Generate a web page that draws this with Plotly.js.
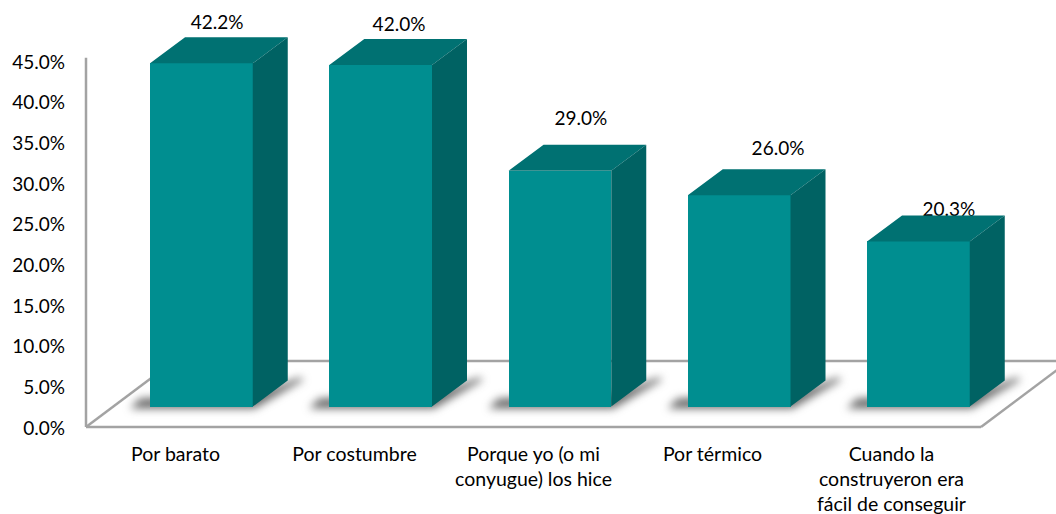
<!DOCTYPE html>
<html><head><meta charset="utf-8">
<script src="https://cdn.plot.ly/plotly-3.0.1.min.js"></script>
<style>html,body{margin:0;padding:0;background:#fff}#c{width:1056px;height:514px}</style>
</head><body><div id="c"></div>
<script>
const categories = ["Por barato","Por costumbre","Porque yo (o mi<br>conyugue) los hice","Por térmico","Cuando la<br>construyeron era<br>fácil de conseguir"];
const values = [42.2,42.0,29.0,26.0,20.3];
const yTicks = [0,5,10,15,20,25,30,35,40,45];

// geometry of the oblique projection (axis units)
const unitX = 179, unitY = 366/45;
const pxX = p=>p/unitX, pxY = p=>p/unitY;
const barStep = 179.25/179, barShift = pxX(25.9), barWidth = pxX(102.7), barLift = pxY(20.4);
const depthX = pxX(35), depthY = pxY(26);
const floorDepthX = pxX(88), floorDepthY = pxY(66);
const labelShift = [0.232,0.2486,0.265,0.366,0.321];
const labelLift = [7.35,7.31,8.74,8.05,6.25];

const idx = values.map((_,i)=>i);
const barX = i=>i*barStep+barShift;
const faceX=[],faceYTop=[],sideX=[],sideY=[];
idx.forEach(i=>{
  const l=barX(i)-barWidth/2, r=barX(i)+barWidth/2, b=barLift, t=barLift+values[i];
  faceX.push(l,r,r+depthX,l+depthX,l,null);
  faceYTop.push(t,t,t+depthY,t+depthY,t,null);
  sideX.push(r,r+depthX,r+depthX,r,r,null);
  sideY.push(b,b+depthY,t+depthY,t,b,null);
});

const gray='#a3a3a3';
const shapes=[];
const line=(x0,y0,x1,y1)=>shapes.push({type:'line',layer:'below',xref:'x',yref:'y',x0,y0,x1,y1,line:{color:gray,width:2.5}});
line(-0.5,0,-0.5,45.4);
line(-0.5,0,4.5,0);
line(-0.5,0,-0.5+floorDepthX,floorDepthY);
line(4.5,0,4.5+floorDepthX,floorDepthY);
line(-0.5+floorDepthX,floorDepthY,4.5+floorDepthX,floorDepthY);
// soft floor shadows, blurred after drawing
idx.forEach(i=>{
  const l=barX(i)-barWidth/2, r=barX(i)+barWidth/2, b=barLift;
  const p=[
    [l+pxX(-10), b+pxY(8)],
    [l+pxX(-20), b+pxY(-2)],
    [r+pxX(2),   b+pxY(-2)],
    [r+depthX+pxX(16), b+depthY+pxY(1)],
    [r+depthX+pxX(12), b+depthY+pxY(3)],
    [r,          b+pxY(12)]
  ];
  shapes.push({type:'path',layer:'below',xref:'x',yref:'y',
    path:'M'+p.map(q=>q.join(',')).join('L')+'Z',
    fillcolor:'rgba(70,70,70,0.8)',line:{width:0}});
});

const data=[
 {type:'bar',x:idx.map(barX),y:values,base:idx.map(()=>barLift),width:barWidth,
  marker:{color:'#008e90',line:{width:0}},hoverinfo:'skip'},
 {type:'scatter',mode:'text',x:idx.map(i=>i+labelShift[i]),y:idx.map(i=>values[i]+labelLift[i]),
  text:values.map(v=>v.toFixed(1)+'%'),textposition:'middle center',
  textfont:{family:'Lato',size:19,color:'#000'},hoverinfo:'skip',cliponaxis:false},
 {type:'scatter',mode:'lines',x:faceX,y:faceYTop,fill:'toself',fillcolor:'#007172',line:{width:0},hoverinfo:'skip'},
 {type:'scatter',mode:'lines',x:sideX,y:sideY,fill:'toself',fillcolor:'#006263',line:{width:0},hoverinfo:'skip'}
];
const L=68,B=79,plotBottomPx=435;
const layout={
 width:1056,height:514,showlegend:false,paper_bgcolor:'#fff',plot_bgcolor:'rgba(0,0,0,0)',
 margin:{l:L,r:0,t:0,b:B,pad:0},bargap:0,shapes,
 font:{family:'Lato',size:19,color:'#000'},
 xaxis:{range:[(L-175.5)/unitX,(1056-175.5)/unitX],tickmode:'array',tickvals:idx,ticktext:categories,
   showgrid:false,zeroline:false,showline:false,ticks:'',ticklabelstandoff:5,
   tickfont:{family:'Lato',size:19.5,color:'#000'},tickangle:0},
 yaxis:{range:[(427-plotBottomPx)/unitY,427/unitY],tickmode:'array',tickvals:yTicks.map(v=>v-pxY(1)),ticktext:yTicks.map(v=>v.toFixed(1)+'%'),
   showgrid:false,zeroline:false,showline:false,ticks:'',ticklabelstandoff:2,
   tickfont:{family:'Lato',size:19,color:'#000'}}
};
Plotly.newPlot('c',data,layout,{displayModeBar:false,staticPlot:true}).then(gd=>{
  gd.querySelectorAll('.shapelayer path').forEach(el=>{
    if((el.style.fill||'').includes('70, 70, 70')) {
      el.style.filter='blur(4px)';
    }
  });
});
</script></body></html>
